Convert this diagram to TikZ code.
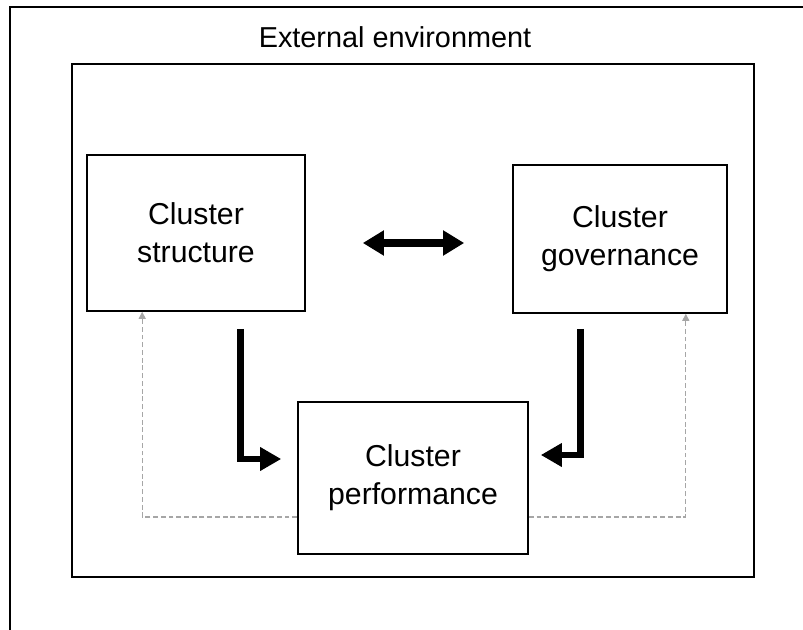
\documentclass[tikz,border=0pt]{standalone}
\usepackage{fontspec}
\setmainfont{Liberation Sans}
\usepackage{tikz}
\usetikzlibrary{positioning,calc,arrows.meta}
\definecolor{feedgrey}{HTML}{A6A6A6}
\begin{document}
\begin{tikzpicture}[x=0.025cm,y=-0.025cm,
    box/.style={draw=black,line width=1.1pt,inner sep=0pt,align=center,
                font=\fontsize{21.5}{27}\selectfont},
    frame/.style={draw=black,line width=1.3pt},
    bigarr/.style={-{Triangle[length=15pt,width=16pt]},line width=4.8pt,black},
    bothway/.style={{Triangle[length=15pt,width=17pt]}-{Triangle[length=15pt,width=17pt]},line width=5.2pt,black},
    feedback/.style={-{Triangle[length=5pt,width=5pt]},feedgrey,line width=0.8pt,dash pattern=on 3.5pt off 2pt},
  ]
    \fill[white] (0,0) rectangle (803,630);
    \useasboundingbox (0,0) rectangle (803,630);
    \draw[frame] (10,640) -- (10,7) -- (813,7);
    \node[font=\fontsize{20.5}{24}\selectfont] (title) at (395,37) {External environment};
    \node[frame,minimum width=17.05cm,minimum height=12.825cm] (inner) at (413,320.5) {};

    \node[box,minimum width=5.45cm,minimum height=3.9cm] (structure) at (196,233) {Cluster\\structure};
    \node[box,minimum width=5.35cm,minimum height=3.7cm] (governance) at (620,239) {Cluster\\governance};
    \node[box,minimum width=5.75cm,minimum height=3.8cm,fill=white] (performance) at (413,478) {Cluster\\performance};

    \draw[bothway] ($(structure.east)+(57,10)$) -- ($(governance.west)+(-48,4)$);
    \draw[bigarr] ($(structure.south east)+(-65,17)$) |- ($(performance.west)+(-16,-19)$);
    \draw[bigarr] ($(governance.south west)+(68,15)$) |- ($(performance.east)+(12,-23)$);
    \draw[feedback] ($(performance.west)+(0,39)$) -| ($(structure.south west)+(56,0)$);
    \draw[feedback] ($(performance.east)+(0,39)$) -| ($(governance.south east)+(-42,0)$);
  \end{tikzpicture}
\end{document}
